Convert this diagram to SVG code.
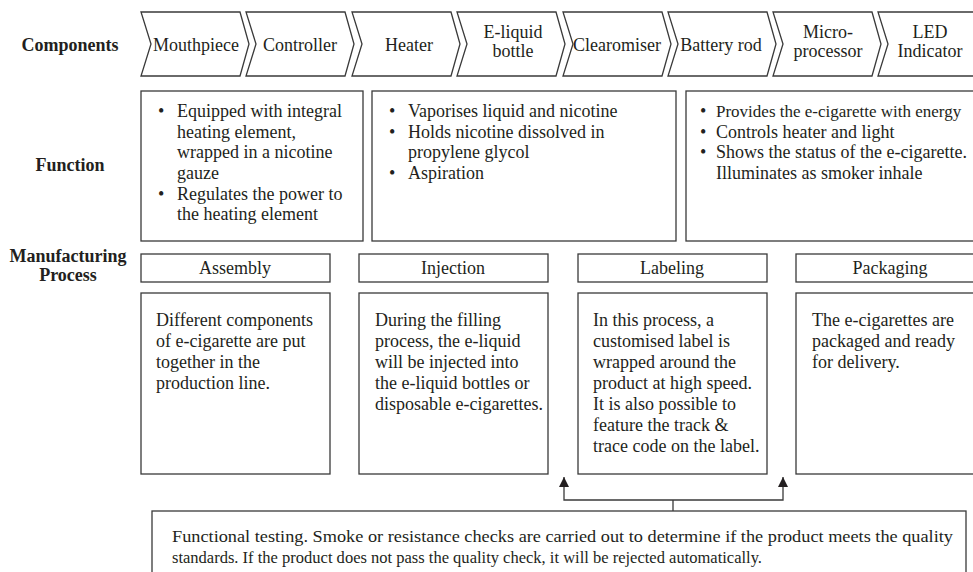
<svg xmlns="http://www.w3.org/2000/svg" width="973" height="572" viewBox="0 0 973 572">
<defs>
<style>
text{font-family:"Liberation Serif","Times New Roman",serif;font-size:18px;fill:#231f20}
.b{font-weight:bold}
.c{text-anchor:middle}
.box{fill:#fff;stroke:#3a3a3a;stroke-width:1.3}
.ln{fill:none;stroke:#3a3a3a;stroke-width:1.3}
.t{font-size:17px}
</style>
<marker id="ah" viewBox="0 0 10 10" refX="10" refY="5" markerWidth="10" markerHeight="10" markerUnits="userSpaceOnUse" orient="auto">
<path d="M0,0 L10,5 L0,10 z" fill="#231f20"/>
</marker>
</defs>
<rect width="973" height="572" fill="#fff"/>

<g id="row-labels">
<text class="b c" x="70" y="51">Components</text>
<text class="b c" x="70" y="171">Function</text>
<text class="b c" x="68" y="262">Manufacturing</text>
<text class="b c" x="68" y="281">Process</text>
</g>

<g id="comp-mouthpiece"><polygon class="box" points="141,12 240,12 249,44 240,76 141,76 151,44"/><text class="c" x="196" y="51">Mouthpiece</text></g>
<g id="comp-controller"><polygon class="box" points="246,12 345,12 354,44 345,76 246,76 256,44"/><text class="c" x="300" y="51">Controller</text></g>
<g id="comp-heater"><polygon class="box" points="352,12 451,12 460,44 451,76 352,76 362,44"/><text class="c" x="409" y="51">Heater</text></g>
<g id="comp-eliquid"><polygon class="box" points="457,12 556,12 565,44 556,76 457,76 467,44"/><text class="c" x="513" y="38">E-liquid</text><text class="c" x="513" y="57">bottle</text></g>
<g id="comp-clearomiser"><polygon class="box" points="563,12 662,12 671,44 662,76 563,76 573,44"/><text class="c" x="617" y="51">Clearomiser</text></g>
<g id="comp-battery"><polygon class="box" points="668,12 767,12 776,44 767,76 668,76 678,44"/><text class="c" x="721" y="51">Battery rod</text></g>
<g id="comp-micro"><polygon class="box" points="773,12 872,12 881,44 872,76 773,76 783,44"/><text class="c" x="828" y="38">Micro-</text><text class="c" x="828" y="57">processor</text></g>
<g id="comp-led"><polygon class="box" points="878,12 977,12 986,44 977,76 878,76 888,44"/><text class="c" x="930" y="38">LED</text><text class="c" x="930" y="57">Indicator</text></g>

<g id="func-1">
<rect class="box" x="141" y="91" width="222" height="150"/>
<text x="158" y="117">•</text><text x="177" y="117">Equipped with integral</text>
<text x="177" y="138">heating element,</text>
<text x="177" y="158">wrapped in a nicotine</text>
<text x="177" y="179">gauze</text>
<text x="158" y="200">•</text><text x="177" y="200">Regulates the power to</text>
<text x="177" y="220">the heating element</text>
</g>
<g id="func-2">
<rect class="box" x="372" y="91" width="304" height="150"/>
<text x="389" y="117">•</text><text x="408" y="117">Vaporises liquid and nicotine</text>
<text x="389" y="138">•</text><text x="408" y="138">Holds nicotine dissolved in</text>
<text x="408" y="158">propylene glycol</text>
<text x="389" y="179">•</text><text x="408" y="179">Aspiration</text>
</g>
<g id="func-3">
<rect class="box" x="686" y="91" width="292" height="150"/>
<text x="700" y="117">•</text><text x="716" y="117" style="font-size:17px">Provides the e-cigarette with energy</text>
<text x="700" y="138">•</text><text x="716" y="138">Controls heater and light</text>
<text x="700" y="158">•</text><text x="716" y="158">Shows the status of the e-cigarette.</text>
<text x="716" y="179">Illuminates as smoker inhale</text>
</g>

<g id="proc-assembly">
<rect class="box" x="141" y="254" width="189" height="28"/>
<text class="c" x="235" y="274">Assembly</text>
<rect class="box" x="141" y="293" width="189" height="181"/>
<text x="156" y="326">Different components</text>
<text x="156" y="347">of e-cigarette are put</text>
<text x="156" y="368">together in the</text>
<text x="156" y="389">production line.</text>
</g>
<g id="proc-injection">
<rect class="box" x="359" y="254" width="189" height="28"/>
<text class="c" x="453" y="274">Injection</text>
<rect class="box" x="359" y="293" width="189" height="181"/>
<text x="375" y="326">During the filling</text>
<text x="375" y="347">process, the e-liquid</text>
<text x="375" y="368">will be injected into</text>
<text x="375" y="389">the e-liquid bottles or</text>
<text x="375" y="410">disposable e-cigarettes.</text>
</g>
<g id="proc-labeling">
<rect class="box" x="578" y="254" width="189" height="28"/>
<text class="c" x="672" y="274">Labeling</text>
<rect class="box" x="578" y="293" width="189" height="181"/>
<text x="593" y="326">In this process, a</text>
<text x="593" y="347">customised label is</text>
<text x="593" y="368">wrapped around the</text>
<text x="593" y="389">product at high speed.</text>
<text x="593" y="410">It is also possible to</text>
<text x="593" y="431">feature the track &amp;</text>
<text x="593" y="452">trace code on the label.</text>
</g>
<g id="proc-packaging">
<rect class="box" x="796" y="254" width="182" height="28"/>
<text class="c" x="890" y="274">Packaging</text>
<rect class="box" x="796" y="293" width="182" height="181"/>
<text x="812" y="326">The e-cigarettes are</text>
<text x="812" y="347">packaged and ready</text>
<text x="812" y="368">for delivery.</text>
</g>

<g id="testing">
<rect class="box" x="152" y="511" width="814" height="70"/>
<text class="t" x="172" y="542" textLength="781" lengthAdjust="spacingAndGlyphs">Functional testing. Smoke or resistance checks are carried out to determine if the product meets the quality</text>
<text class="t" x="172" y="563" textLength="590" lengthAdjust="spacingAndGlyphs">standards. If the product does not pass the quality check, it will be rejected automatically.</text>
</g>

<g id="connectors">
<path class="ln" d="M673,511 V500"/>
<path class="ln" d="M673,500 H564 V477" marker-end="url(#ah)"/>
<path class="ln" d="M673,500 H783 V477" marker-end="url(#ah)"/>
</g>
</svg>
